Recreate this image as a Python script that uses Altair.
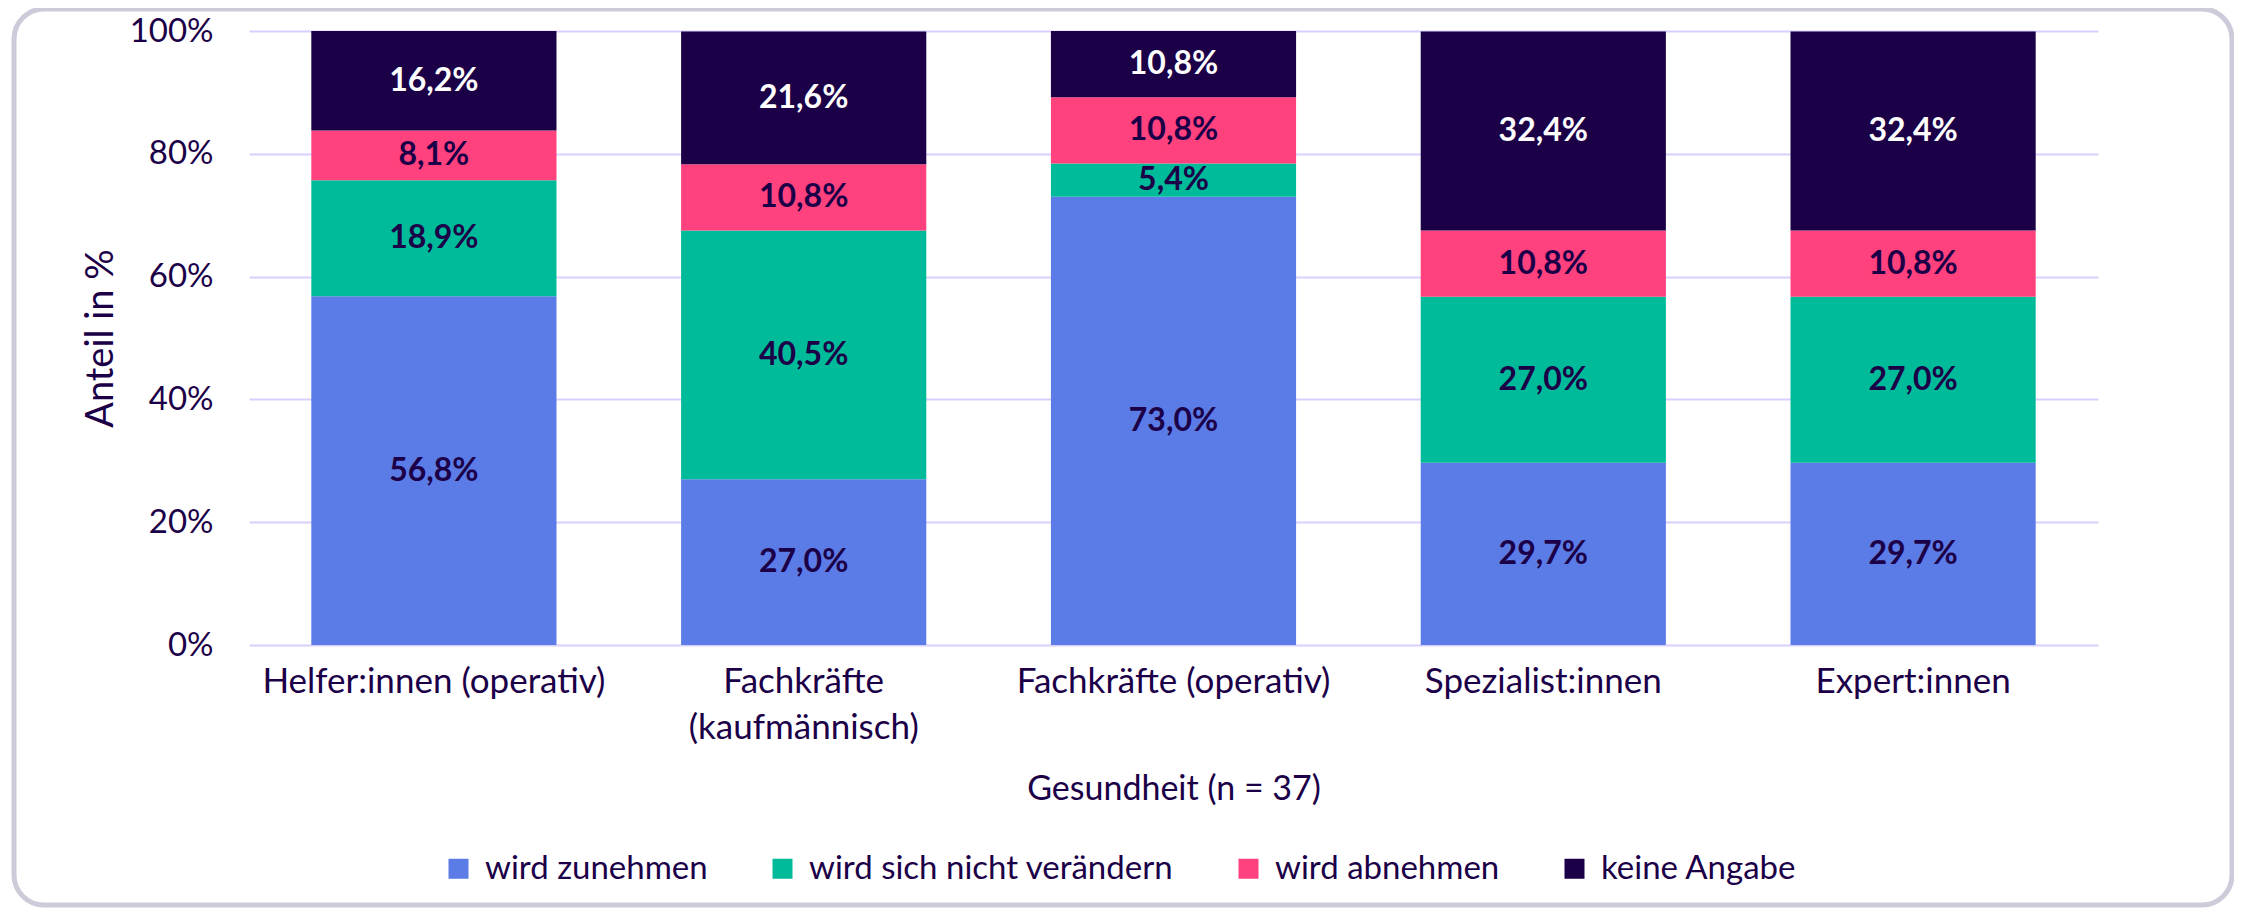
import altair as alt
import pandas as pd

# ---- data ----
categories = ["Helfer:innen (operativ)", "Fachkräfte|(kaufmännisch)", "Fachkräfte (operativ)",
              "Spezialist:innen", "Expert:innen"]
series = ["wird zunehmen", "wird sich nicht verändern", "wird abnehmen", "keine Angabe"]
zunehmen = [56.8, 27.0, 73.0, 29.7, 29.7]
nicht_veraendern = [18.9, 40.5, 5.4, 27.0, 27.0]
abnehmen = [8.1, 10.8, 10.8, 10.8, 10.8]
keine_angabe = [16.2, 21.6, 10.8, 32.4, 32.4]
colors = ["#5B7BE6", "#00BB9A", "#FF417D", "#1B0048"]
y_ticks = [0, 20, 40, 60, 80, 100]

DARK = "#1B0048"
FONT = "Lato"

rows = []
for s_i, (s, vals) in enumerate(zip(series, [zunehmen, nicht_veraendern, abnehmen, keine_angabe])):
    for c, v in zip(categories, vals):
        rows.append({"cat": c, "series": s, "order": s_i, "value": v})
df = pd.DataFrame(rows)

x_enc = alt.X(
    "cat:N", sort=categories,
    scale=alt.Scale(paddingInner=0.337, paddingOuter=0.1685),
    axis=alt.Axis(
        title="Gesundheit (n = 37)", labelAngle=0, labelExpr="split(datum.value, '|')",
        domain=False, ticks=False, tickSize=0, grid=False, labelPadding=19,
        labelFont=FONT, labelFontSize=35, labelColor=DARK, labelLineHeight=46, labelLimit=1000,
        titleFont=FONT, titleFontSize=34, titleFontWeight="normal", titleColor=DARK,
        titleY=154, titleBaseline="alphabetic",
    ),
)

y_axis = alt.Axis(
    title="Anteil in %", values=y_ticks, labelExpr="datum.value + '%'",
    domain=False, ticks=False, tickSize=0, labelPadding=36,
    labelFont=FONT, labelFontSize=33, labelColor=DARK,
    gridColor="#D9CFFF", gridWidth=2,
    titleFont=FONT, titleFontSize=38, titleFontWeight="normal", titleColor=DARK,
    titleAngle=270, titleX=-137, titleY=307, titleBaseline="alphabetic", titleAlign="center",
)
y_scale = alt.Scale(domain=[0, 100], nice=False)

base = alt.Chart(df).transform_stack(
    stack="value", groupby=["cat"], sort=[alt.SortField("order", order="ascending")], as_=["y0", "y1"]
).transform_calculate(
    ymid="(datum.y0 + datum.y1) / 2",
    label="replace(format(datum.value, '.1f'), '.', ',') + '%'",
)

bars = base.mark_bar().encode(
    x=x_enc,
    y=alt.Y("y0:Q", scale=y_scale, axis=y_axis, title="Anteil in %"),
    y2="y1:Q",
    color=alt.Color(
        "series:N", scale=alt.Scale(domain=series, range=colors),
        legend=alt.Legend(
            title=None, orient="none", legendX=193, legendY=821, direction="horizontal",
            symbolType="square", symbolSize=400, symbolStrokeWidth=0,
            labelFont=FONT, labelFontSize=33, labelColor=DARK, labelOffset=10,
            columnPadding=58, labelLimit=1000,
        ),
    ),
)

labels = base.mark_text(font=FONT, fontSize=32, fontWeight="bold", baseline="middle").encode(
    x=x_enc,
    y=alt.Y("ymid:Q", scale=y_scale, axis=y_axis, title="Anteil in %"),
    text="label:N",
    color=alt.condition("datum.series == 'keine Angabe'", alt.value("white"), alt.value(DARK)),
)

frame = alt.Chart(pd.DataFrame({"f": [0]})).mark_rect(
    fillOpacity=0, stroke="#CDCAD9", strokeWidth=5, cornerRadius=30
).encode(
    x=alt.value(-235), x2=alt.value(1983), y=alt.value(-22), y2=alt.value(874)
)

chart = alt.layer(bars, labels, frame).properties(
    width=1849, height=614,
    padding={"left": 241, "top": 23, "right": 136, "bottom": 263},
    autosize=alt.AutoSizeParams(type="none"),
    background="white",
).configure_view(stroke=None)

chart.save("out.html", embed_options={"renderer": "svg", "actions": False})
